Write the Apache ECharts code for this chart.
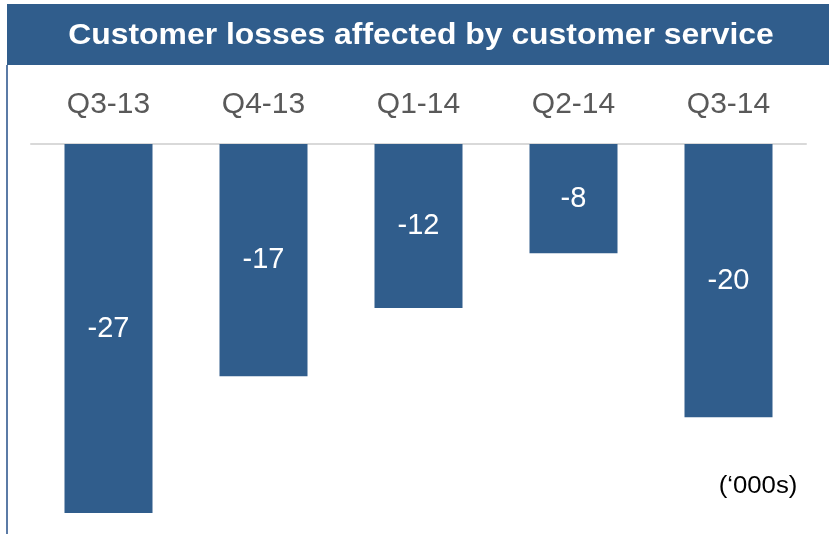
<!DOCTYPE html>
<html>
<head>
<meta charset="utf-8">
<script src="https://cdn.jsdelivr.net/npm/echarts@6/dist/echarts.min.js"></script>
<style>
  html, body { margin: 0; padding: 0; background: #ffffff; }
  #chart { width: 829px; height: 534px; }
</style>
</head>
<body>
<div id="chart"></div>
<script>
// Quarterly customer losses (thousands)
const quarters = ['Q3-13', 'Q4-13', 'Q1-14', 'Q2-14', 'Q3-14'];
const losses = [-27, -17, -12, -8, -20];
const titleText = 'Customer losses affected by customer service';
const unitText = '(\u2018000s)';

const BLUE = '#305d8c';

const chart = echarts.init(document.getElementById('chart'), null, { renderer: 'canvas' });

chart.setOption({
  animation: false,
  backgroundColor: '#ffffff',
  grid: { left: 31, top: 144, width: 775, height: 369, containLabel: false },
  xAxis: {
    type: 'category',
    data: quarters,
    position: 'top',
    axisLine: { show: true, lineStyle: { color: '#d9d9d9', width: 2 } },
    axisTick: { show: false },
    axisLabel: {
      color: '#595959',
      fontFamily: 'Liberation Sans, Arial, sans-serif',
      fontSize: 30,
      margin: 24
    },
    splitLine: { show: false }
  },
  yAxis: {
    type: 'value',
    min: -27,
    max: 0,
    show: false,
    splitLine: { show: false }
  },
  series: [{
    type: 'bar',
    data: losses,
    barWidth: 88,
    itemStyle: { color: BLUE },
    label: {
      show: true,
      position: 'inside',
      color: '#ffffff',
      fontFamily: 'Liberation Sans, Arial, sans-serif',
      fontSize: 29
    }
  }],
  graphic: [
    {
      type: 'rect',
      shape: { x: 7, y: 4, width: 822, height: 61 },
      style: { fill: BLUE },
      silent: true
    },
    {
      type: 'rect',
      shape: { x: 6, y: 65, width: 2, height: 469 },
      style: { fill: '#5b7ba6' },
      silent: true
    },
    {
      type: 'text',
      x: 421,
      y: 36,
      scaleX: 1.1,
      style: {
        text: titleText,
        fill: '#ffffff',
        font: 'bold 29px "Liberation Sans", Arial, sans-serif',
        align: 'center',
        verticalAlign: 'middle'
      },
      silent: true
    },
    {
      type: 'text',
      x: 758,
      y: 487,
      scaleX: 1.12,
      style: {
        text: unitText,
        fill: '#000000',
        font: '23px "Liberation Sans", Arial, sans-serif',
        align: 'center',
        verticalAlign: 'middle'
      },
      silent: true
    }
  ]
});
</script>
</body>
</html>
